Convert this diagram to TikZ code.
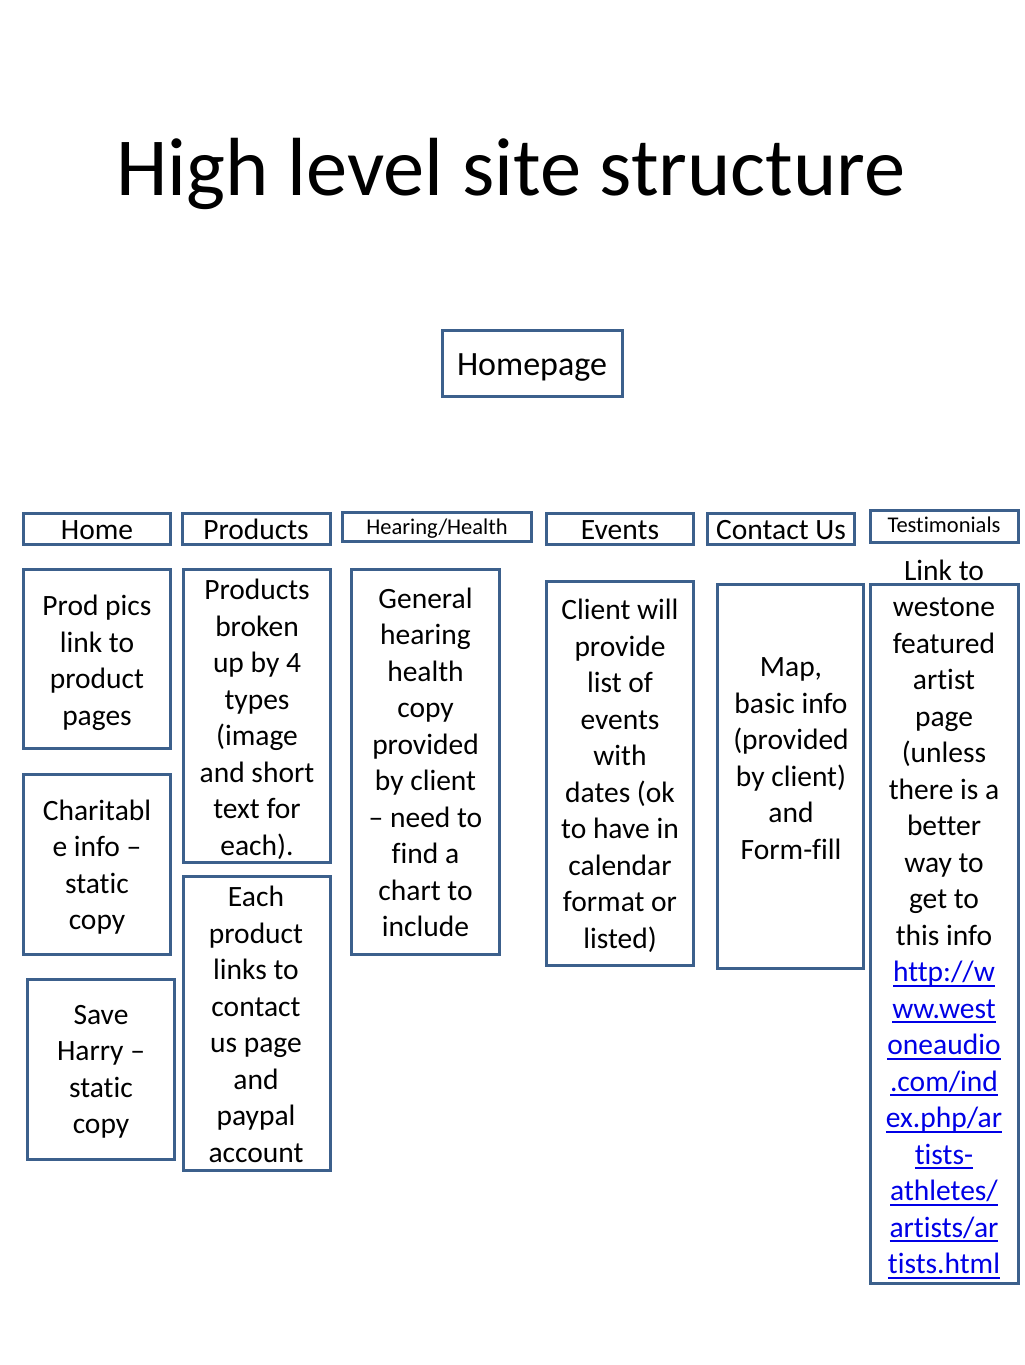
\documentclass[tikz,border=0pt]{standalone}
\usepackage{fontspec}
\setmainfont{Carlito}[Ligatures=NoCommon]
\definecolor{boxblue}{RGB}{60,96,140}
\definecolor{linkblue}{RGB}{0,0,230}
\newcommand\lnk[1]{\setbox0\hbox{#1}\rlap{\rule[-5bp]{\wd0}{1.6bp}}\box0}
\tikzset{
  box/.style={draw=boxblue, line width=3bp, inner sep=0pt, outer sep=0pt, fill=white},
  body/.style={font=\fontsize{29.5bp}{36.5bp}\selectfont, align=center, inner sep=0pt, yshift=-5bp,
    execute at begin node=\strut, execute at end node=\strut},
  head/.style={font=\fontsize{29.5bp}{36bp}\selectfont, inner sep=0pt, text height=20bp, text depth=0bp},
  small/.style={font=\fontsize{22.5bp}{27bp}\selectfont, inner sep=0pt, text height=15.5bp, text depth=0bp},
}
\begin{document}
\begin{tikzpicture}[x=1bp,y=-1bp]
\useasboundingbox[fill=white] (0,0) rectangle (1024,1365);

\node[font=\fontsize{82.5bp}{99bp}\selectfont, anchor=base, inner sep=0pt] (title) at (511,196) {High level site structure};

% boxes
\node[box, minimum width=180bp, minimum height=66bp] (homepage) at (532.5,363.5) {};
\node[box, minimum width=147bp, minimum height=31bp] (home) at (97,529) {};
\node[box, minimum width=148bp, minimum height=31bp] (products) at (256.5,529) {};
\node[box, minimum width=189bp, minimum height=29bp] (hearing) at (437,527) {};
\node[box, minimum width=147bp, minimum height=31bp] (events) at (620,529) {};
\node[box, minimum width=147bp, minimum height=31bp] (contact) at (781,529) {};
\node[box, minimum width=148bp, minimum height=32bp] (testim) at (944.5,526.5) {};

\node[box, minimum width=147bp, minimum height=179bp] (prodpics) at (97,659) {};
\node[box, minimum width=147bp, minimum height=180bp] (charit) at (97,864.5) {};
\node[box, minimum width=147bp, minimum height=180bp] (saveh) at (101,1069.5) {};
\node[box, minimum width=147bp, minimum height=293bp] (prodbroken) at (257,716) {};
\node[box, minimum width=147bp, minimum height=294bp] (eachprod) at (257,1023.5) {};
\node[box, minimum width=148bp, minimum height=385bp] (general) at (425.5,762) {};
\node[box, minimum width=147bp, minimum height=384bp] (client) at (620,773.5) {};
\node[box, minimum width=146bp, minimum height=384bp] (map) at (790.5,776.5) {};
\node[box, minimum width=148bp, minimum height=699bp] (link) at (944.5,934) {};

% texts
\node[font=\fontsize{34bp}{40bp}\selectfont, inner sep=0pt, text height=23bp, text depth=0bp] (thomepage) at (532,364) {Homepage};
\node[head] (thome) at (97,529) {Home};
\node[head] (tproducts) at (256,529) {Products};
\node[small] (thearing) at (437,527) {Hearing/Health};
\node[head] (tevents) at (620,529) {Events};
\node[head] (tcontact) at (781,529) {Contact Us};
\node[small] (ttestim) at (944,525) {Testimonials};

\node[body] (tprodpics) at (97,660.5) {Prod pics\\link to\\product\\pages};
\node[body] (tcharit) at (97,865) {Charitabl\\e info –\\static\\copy};
\node[body] (tsaveh) at (101,1070) {Save\\Harry –\\static\\copy};
\node[body] (tprodbroken) at (257,717.5) {Products\\broken\\up by 4\\types\\(image\\and short\\text for\\each).};
\node[body] (teachprod) at (256,1024.5) {Each\\product\\links to\\contact\\us page\\and\\paypal\\account};
\node[body] (tgeneral) at (425.5,762.5) {General\\hearing\\health\\copy\\provided\\by client\\– need to\\find a\\chart to\\include};
\node[body] (tclient) at (620,774) {Client will\\provide\\list of\\events\\with\\dates (ok\\to have in\\calendar\\format or\\listed)};
\node[body] (tmap) at (791,759) {Map,\\basic info\\(provided\\by client)\\and\\Form-fill};
\node[body] (tlink) at (944,917) {Link to\\westone\\featured\\artist\\page\\(unless\\there is a\\better\\way to\\get to\\this info\\
\color{linkblue}\lnk{http://w}\\\color{linkblue}\lnk{ww.west}\\\color{linkblue}\lnk{oneaudio}\\\color{linkblue}\lnk{.com/ind}\\\color{linkblue}\lnk{ex.php/ar}\\\color{linkblue}\lnk{tists-}\\\color{linkblue}\lnk{athletes/}\\\color{linkblue}\lnk{artists/ar}\\\color{linkblue}\lnk{tists.html}};
\end{tikzpicture}
\end{document}
